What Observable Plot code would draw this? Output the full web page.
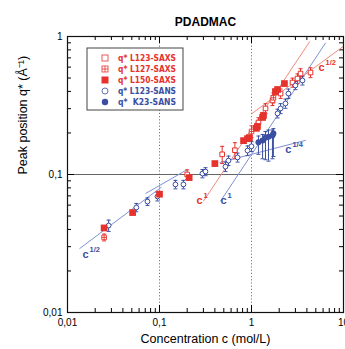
<!DOCTYPE html>
<html><head><meta charset="utf-8">
<script src="https://cdn.jsdelivr.net/npm/d3@7"></script>
<script src="https://cdn.jsdelivr.net/npm/@observablehq/plot@0.6"></script>
<style>
body{margin:0;background:#fff;}
#chart{position:relative;width:345px;height:349px;overflow:hidden;}
</style></head><body><div id="chart"></div>
<script>
const RED = "#e5322d", BLUE = "#3a4ea2", RED_LINE = "#f08a80", BLUE_LINE = "#7f90d2";

// tick values
const xMajor = [0.01, 0.1, 1, 10];
const yMajor = [0.01, 0.1, 1];
const xMinor = [0.02,0.03,0.04,0.05,0.06,0.07,0.08,0.09,0.2,0.3,0.4,0.5,0.6,0.7,0.8,0.9,2,3,4,5,6,7,8,9];
const yMinor = [0.02,0.03,0.04,0.05,0.06,0.07,0.08,0.09,0.2,0.3,0.4,0.5,0.6,0.7,0.8,0.9];
const gridX = [0.1, 1];
const gridY = [0.1];

// q* L150-SAXS (filled red squares)
const l150C = [0.025, 0.051, 0.10, 0.21, 0.40, 0.82, 0.905, 0.95, 1.13, 1.16, 1.32, 1.35, 1.82, 1.92, 2.28];
const l150Q = [0.041, 0.053, 0.072, 0.095, 0.12, 0.176, 0.182, 0.185, 0.216, 0.223, 0.259, 0.268, 0.399, 0.413, 0.456];

// q* L127-SAXS (hatched red squares)
const l127C = [0.025, 1.0, 1.73];
const l127Q = [0.035, 0.205, 0.36];
const l127E = [0.002, 0.02, 0.03];

// q* L123-SAXS (open red squares, error bars)
const l123xC = [0.20, 0.48, 0.66, 1.19, 1.42, 1.69, 2.07, 2.79, 3.16, 3.41, 4.38];
const l123xQ = [0.100, 0.140, 0.150, 0.238, 0.301, 0.344, 0.386, 0.464, 0.496, 0.539, 0.548];
const l123xE = [0.008, 0.02, 0.02, 0.02, 0.025, 0.028, 0.03, 0.035, 0.04, 0.045, 0.045];

// q* L123-SANS (open blue circles, error bars)
const l123nC = [0.028, 0.056, 0.074, 0.095, 0.149, 0.182, 0.293, 0.316, 0.521, 0.562, 0.705, 0.905, 1.0, 1.92, 2.07, 2.34, 2.52, 3.0, 3.58];
const l123nQ = [0.0427, 0.0577, 0.0637, 0.0693, 0.0847, 0.0847, 0.1016, 0.105, 0.114, 0.126, 0.133, 0.149, 0.16, 0.277, 0.301, 0.327, 0.386, 0.442, 0.48];
const l123nE = [0.004, 0.004, 0.004, 0.005, 0.006, 0.006, 0.007, 0.007, 0.009, 0.01, 0.01, 0.012, 0.013, 0.02, 0.025, 0.025, 0.03, 0.03, 0.035];

// q* K23-SANS (filled blue circles, asymmetric error bars)
const k23C = [1.19, 1.32, 1.42, 1.53, 1.69, 1.73];
const k23Q = [0.171, 0.176, 0.185, 0.188, 0.192, 0.198];
const k23Lo = [0.14, 0.13, 0.128, 0.125, 0.13, 0.135];
const k23Hi = [0.19, 0.195, 0.205, 0.21, 0.21, 0.215];

// power-law guide lines (endpoints)
const fitC1 = [0.0135, 0.0705, 0.30, 0.46, 1.0, 0.45];
const fitQ1 = [0.029, 0.0728, 0.064, 0.064, 0.275, 0.122];
const fitC2 = [0.105, 0.201, 4.3, 6.4, 10, 3.9];
const fitQ2 = [0.081, 0.1087, 0.92, 0.9, 0.85, 0.177];
const fitCol = ["b", "b", "r", "b", "r", "b"];

// guide labels
const labC = [0.0157, 0.272, 0.497, 2.52, 5.77];
const labQ = [0.0263, 0.0648, 0.0648, 0.152, 0.596];
const labExp = ["1/2", "1", "1", "1/4", "1/2"];
const labCol = ["b", "r", "b", "b", "r"];

// legend
const legNames = ["q* L123-SAXS", "q* L127-SAXS", "q* L150-SAXS", "q* L123-SANS", "q*  K23-SANS"];
const legCol = ["r", "r", "r", "b", "b"];
const legSym = ["sq", "hatch", "fsq", "circ", "fcirc"];

const col = k => k === "r" ? RED : BLUE;
const lcol = k => k === "r" ? RED_LINE : BLUE_LINE;
const fmt = d => String(d).replace(".", ",");

const zip = (c, q, lo, hi) => c.map((v, i) => ({c: v, q: q[i], lo: lo ? lo[i] : null, hi: hi ? hi[i] : null}));
const l150 = zip(l150C, l150Q);
const l127 = zip(l127C, l127Q, l127Q.map((v, i) => v - l127E[i]), l127Q.map((v, i) => v + l127E[i]));
const l123x = zip(l123xC, l123xQ, l123xQ.map((v, i) => v - l123xE[i]), l123xQ.map((v, i) => v + l123xE[i]));
const l123n = zip(l123nC, l123nQ, l123nQ.map((v, i) => v - l123nE[i]), l123nQ.map((v, i) => v + l123nE[i]));
const k23 = zip(k23C, k23Q, k23Lo, k23Hi);
const fits = fitC1.map((v, i) => ({x1: v, y1: fitQ1[i], x2: fitC2[i], y2: fitQ2[i], k: fitCol[i]}));
const labs = labC.map((v, i) => ({c: v, q: labQ[i], e: labExp[i], k: labCol[i]}));

const capSym = {draw(ctx, size) { const w = Math.sqrt(size / Math.PI); ctx.moveTo(-w, 0); ctx.lineTo(w, 0); }};
const hatchSym = {draw(ctx, size) { const s = Math.sqrt(size) / 2; ctx.rect(-s, -s, 2*s, 2*s); ctx.moveTo(-s, 0); ctx.lineTo(s, 0); ctx.moveTo(0, -s); ctx.lineTo(0, s); }};

const W = 345, H = 349, ML = 67, MR = 2, MT = 36, MB = 37;
const FW = W - ML - MR, FH = H - MT - MB;
const MAJ = 7, MIN = 4;

function errMarks(data, color) {
  return [
    Plot.ruleX(data, {x: "c", y1: "lo", y2: "hi", stroke: color, strokeWidth: 1}),
    Plot.dot(data, {x: "c", y: "lo", symbol: capSym, r: 2, stroke: color, strokeWidth: 1}),
    Plot.dot(data, {x: "c", y: "hi", symbol: capSym, r: 2, stroke: color, strokeWidth: 1})
  ];
}

const chart = Plot.plot({
  width: W, height: H,
  marginLeft: ML, marginRight: MR, marginTop: MT, marginBottom: MB,
  style: {fontFamily: "'Liberation Sans', Arial, sans-serif", fontSize: "10px", background: "#fff", overflow: "visible"},
  x: {type: "log", domain: [0.01, 10]},
  y: {type: "log", domain: [0.01, 1]},
  marks: [
    Plot.ruleX(gridX, {x: d => d, stroke: "#777", strokeDasharray: "1.2,2", strokeWidth: 1}),
    Plot.ruleY(gridY, {y: d => d, stroke: "#666", strokeWidth: 1}),
    // ticks inward
    Plot.tickX(xMajor, {x: d => d, insetTop: FH - MAJ, stroke: "#000"}),
    Plot.tickX(xMinor, {x: d => d, insetTop: FH - MIN, stroke: "#000"}),
    Plot.tickX(xMajor, {x: d => d, insetBottom: FH - MAJ, stroke: "#000"}),
    Plot.tickX(xMinor, {x: d => d, insetBottom: FH - MIN, stroke: "#000"}),
    Plot.tickY(yMajor, {y: d => d, insetRight: FW - MAJ, stroke: "#000"}),
    Plot.tickY(yMinor, {y: d => d, insetRight: FW - MIN, stroke: "#000"}),
    Plot.tickY(yMajor, {y: d => d, insetLeft: FW - MAJ, stroke: "#000"}),
    Plot.tickY(yMinor, {y: d => d, insetLeft: FW - MIN, stroke: "#000"}),
    // guide lines
    Plot.link(fits, {x1: "x1", y1: "y1", x2: "x2", y2: "y2", stroke: d => lcol(d.k), strokeWidth: 1}),
    // error bars
    ...errMarks(l123x, RED),
    ...errMarks(l127, RED),
    ...errMarks(l123n, BLUE),
    ...errMarks(k23, BLUE),
    // points
    Plot.dot(l123x, {x: "c", y: "q", symbol: "square", r: 2.6, stroke: RED, strokeWidth: 1, fill: "white"}),
    Plot.dot(l127, {x: "c", y: "q", symbol: hatchSym, r: 2.6, stroke: RED, strokeWidth: 0.9, fill: "white"}),
    Plot.dot(l123n, {x: "c", y: "q", symbol: "circle", r: 2.4, stroke: BLUE, strokeWidth: 1, fill: "white"}),
    Plot.dot(l150, {x: "c", y: "q", symbol: "square", r: 3.8, fill: RED}),
    Plot.dot(k23, {x: "c", y: "q", symbol: "circle", r: 3, fill: BLUE}),
    // guide labels
    Plot.text(labs, {x: "c", y: "q", text: () => "c", fill: d => col(d.k), fontSize: 11, fontWeight: "bold"}),
    Plot.text(labs, {x: "c", y: "q", text: "e", fill: d => col(d.k), fontSize: 7.5, fontWeight: "bold", textAnchor: "start", dx: 4, dy: -5}),
    Plot.frame({stroke: "#111", strokeWidth: 1.2}),
    Plot.axisX({ticks: xMajor, tickFormat: fmt, tickSize: 0, tickPadding: 6, label: null, fontSize: 10}),
    Plot.axisY({ticks: yMajor, tickFormat: fmt, tickSize: 0, tickPadding: 5, label: null, fontSize: 10}),
    Plot.text(["PDADMAC"], {text: d => d, frameAnchor: "top", dy: -19, fontWeight: "bold", fontSize: 12}),
    Plot.text(["Concentration c (mol/L)"], {text: d => d, frameAnchor: "bottom", dy: 30, fontSize: 12.5}),
    Plot.text(["Peak position q* (Å⁻¹)"], {text: d => d, frameAnchor: "left", dx: -45, rotate: -90, fontSize: 12.5})
  ]
});

document.getElementById("chart").appendChild(chart);

// legend box inside the frame
const svg = d3.select(chart.tagName.toLowerCase() === "svg" ? chart : chart.querySelector("svg"));
const lg = svg.append("g").attr("transform", "translate(87,48)").attr("text-anchor", "start");
lg.append("rect").attr("width", 96).attr("height", 62).attr("fill", "white").attr("stroke", "#444").attr("stroke-width", 1);
legNames.forEach((name, i) => {
  const y = 10 + i * 11;
  const c = col(legCol[i]);
  const g = lg.append("g").attr("transform", `translate(18,${y})`);
  const s = legSym[i];
  if (s === "sq") g.append("rect").attr("x", -3).attr("y", -3).attr("width", 6).attr("height", 6).attr("fill", "none").attr("stroke", c).attr("stroke-width", 0.8);
  if (s === "hatch") {
    g.append("rect").attr("x", -3).attr("y", -3).attr("width", 6).attr("height", 6).attr("fill", "none").attr("stroke", c).attr("stroke-width", 0.8);
    g.append("path").attr("d", "M-3,0H3M0,-3V3").attr("stroke", c).attr("stroke-width", 0.8);
  }
  if (s === "fsq") g.append("rect").attr("x", -3.5).attr("y", -3.5).attr("width", 7).attr("height", 7).attr("fill", c);
  if (s === "circ") g.append("circle").attr("r", 3).attr("fill", "none").attr("stroke", c).attr("stroke-width", 0.8);
  if (s === "fcirc") g.append("circle").attr("r", 3.2).attr("fill", c);
  lg.append("text").attr("x", 31).attr("y", y).attr("dy", "0.35em")
    .attr("text-anchor", "start")
    .attr("fill", c).attr("font-size", 9.5).attr("font-weight", "bold")
    .attr("font-family", "'DejaVu Sans Condensed', 'Liberation Sans', sans-serif")
    .attr("textLength", 58).attr("lengthAdjust", "spacingAndGlyphs")
    .attr("xml:space", "preserve").style("white-space", "pre")
    .text(name);
});
</script>
</body></html>
